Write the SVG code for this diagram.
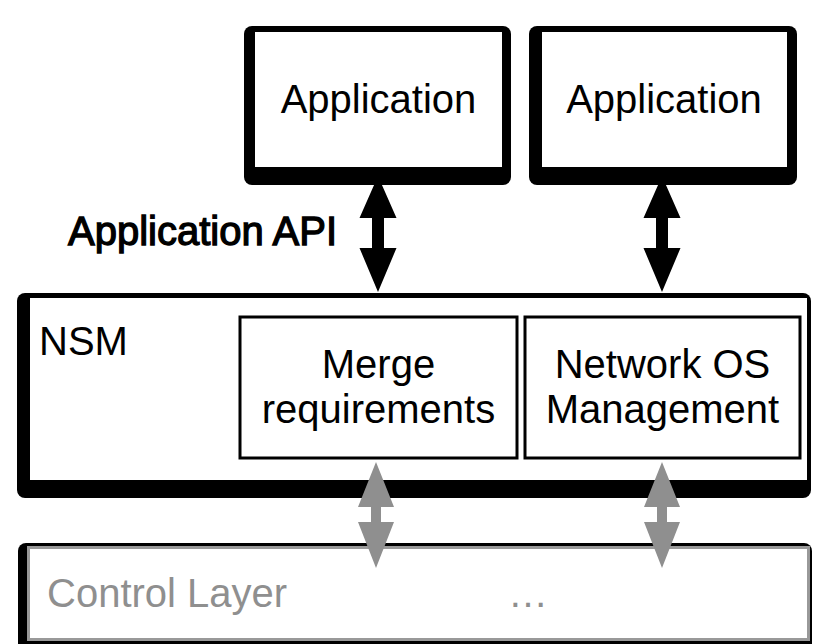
<svg xmlns="http://www.w3.org/2000/svg" width="813" height="644" viewBox="0 0 813 644">
  <style>
    .t { font-family: "Liberation Sans", Arial, sans-serif; font-size: 40px; fill: #000; }
    .c { text-anchor: middle; }
    .g { fill: #8f8f8f; }
    .shadow { fill: #000; }
    .inner { fill: #fff; }
    .sub { fill: #fff; stroke: #000; stroke-width: 3; }
  </style>
  <rect width="813" height="644" fill="#fff"/>

  <g id="connectors">
    <path id="api-left" d="M378 176 L396.5 218 L384 218 L384 248 L396.5 248 L378 292 L359.5 248 L372 248 L372 218 L359.5 218 Z" fill="#000"/>
    <path id="api-right" d="M662 176 L680.5 218 L668 218 L668 248 L680.5 248 L662 292 L643.5 248 L656 248 L656 218 L643.5 218 Z" fill="#000"/>
  </g>

  <g id="app1">
    <rect class="shadow" x="244" y="26" width="267" height="159" rx="8"/>
    <rect class="inner" x="255" y="32" width="247" height="135"/>
    <text class="t c" x="378.5" y="113">Application</text>
  </g>
  <g id="app2">
    <rect class="shadow" x="529" y="26" width="268" height="159" rx="8"/>
    <rect class="inner" x="542" y="32" width="245" height="135"/>
    <text class="t c" x="664" y="113">Application</text>
  </g>

  <g id="api-label">
    <text class="t" x="68" y="245" stroke="#000" stroke-width="1.3">Application API</text>
  </g>

  <g id="nsm">
    <rect class="shadow" x="17" y="293" width="794" height="205" rx="8"/>
    <rect class="inner" x="30" y="298" width="777" height="182"/>
    <text class="t" x="39" y="355">NSM</text>
  </g>
  <g id="merge">
    <rect class="sub" x="240" y="317" width="277" height="141"/>
    <text class="t c" x="378.5" y="378">Merge</text>
    <text class="t c" x="378.5" y="423">requirements</text>
  </g>
  <g id="netos">
    <rect class="sub" x="525" y="317" width="275" height="141"/>
    <text class="t c" x="662.5" y="378">Network OS</text>
    <text class="t c" x="662.5" y="423">Management</text>
  </g>

  <g id="control">
    <rect class="shadow" x="18" y="543" width="794" height="110" rx="8"/>
    <rect x="28.5" y="547.5" width="780" height="92" fill="#fff" stroke="#999" stroke-width="3"/>
    <text class="t g" x="47" y="607">Control Layer</text>
    <text class="t g" x="508" y="607">…</text>
  </g>

  <g id="connectors-gray">
    <path id="ctl-left" d="M376 462 L394 507 L381 507 L381 522 L394 522 L376 568 L358 522 L371 522 L371 507 L358 507 Z" fill="#8f8f8f"/>
    <path id="ctl-right" d="M662 462 L680 507 L667 507 L667 522 L680 522 L662 568 L644 522 L657 522 L657 507 L644 507 Z" fill="#8f8f8f"/>
  </g>
</svg>
